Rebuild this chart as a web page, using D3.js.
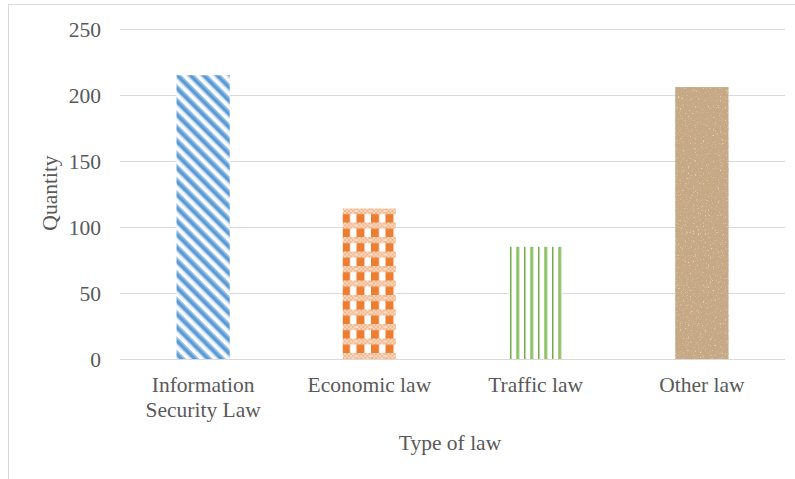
<!DOCTYPE html>
<html>
<head>
<meta charset="utf-8">
<script src="https://cdn.jsdelivr.net/npm/d3@7"></script>
<style>
  html, body { margin: 0; padding: 0; background: #fff; }
  svg { display: block; }
  text { font-family: "Liberation Serif", "Times New Roman", serif; fill: #595959; }
</style>
</head>
<body>
<script>
// Number of laws by type
const categories = ["Information\nSecurity Law", "Economic law", "Traffic law", "Other law"];
const quantities = [215, 114, 85, 206];
const yTicks = [0, 50, 100, 150, 200, 250];
const fills = ["url(#diag)", "url(#plaid)", "url(#vstripe)", "#c9a981"];

const W = 795, H = 479;
const margin = { left: 120, right: 10, top: 29, bottom: 120 };
const FS = 21.5;

const svg = d3.select("body").append("svg").attr("width", W).attr("height", H);

// chart frame
svg.append("rect").attr("x", 8.5).attr("y", 4.5).attr("width", 800).attr("height", 500)
  .attr("fill", "#fff").attr("stroke", "#d9d9d9");

const defs = svg.append("defs");

// blue wide downward diagonal stripes
const P = 9.4;
const diag = defs.append("pattern").attr("id", "diag").attr("patternUnits", "userSpaceOnUse")
  .attr("width", P).attr("height", P).attr("patternTransform", "rotate(45)");
diag.append("rect").attr("width", P).attr("height", P).attr("fill", "#fff");
diag.append("rect").attr("x", 0).attr("y", 1.2).attr("width", P).attr("height", 3.6).attr("fill", "#5b9bd5");
diag.append("rect").attr("x", 0).attr("y", 0).attr("width", P).attr("height", 1.2).attr("fill", "#9dc3e6");
diag.append("rect").attr("x", 0).attr("y", 4.8).attr("width", P).attr("height", 1.2).attr("fill", "#9dc3e6");
diag.append("rect").attr("x", 0).attr("y", 6).attr("width", P).attr("height", 0.8).attr("fill", "#deebf7");

// orange plaid
const plaid = defs.append("pattern").attr("id", "plaid").attr("patternUnits", "userSpaceOnUse")
  .attr("x", 342).attr("y", 208).attr("width", 14.5).attr("height", 14.5);
plaid.append("rect").attr("width", 14.5).attr("height", 14.5).attr("fill", "#fff");
plaid.append("rect").attr("x", 0).attr("y", 0).attr("width", 8).attr("height", 14.5).attr("fill", "#ed7d31");
plaid.append("rect").attr("x", 0).attr("y", 0).attr("width", 14.5).attr("height", 6).attr("fill", "#fbe0cc");
for (let i = 0; i < 7; i++) {
  for (let j = 0; j < 3; j++) {
    if ((i + j) % 2 === 0) {
      plaid.append("rect").attr("x", i * 2).attr("y", j * 2).attr("width", 2).attr("height", 2).attr("fill", "#f4b183");
    }
  }
}

// green vertical stripes
const vs = defs.append("pattern").attr("id", "vstripe").attr("patternUnits", "userSpaceOnUse")
  .attr("x", 509).attr("width", 14).attr("height", 10);
vs.append("rect").attr("width", 14).attr("height", 10).attr("fill", "#fff");
vs.append("rect").attr("x", 1).attr("width", 1.5).attr("height", 10).attr("fill", "#70ad47");
vs.append("rect").attr("x", 7).attr("width", 3.5).attr("height", 10).attr("fill", "#a9d18e");
vs.append("rect").attr("x", 8).attr("width", 1.5).attr("height", 10).attr("fill", "#8cc063");

// brown sand texture, applied directly on the bar
const sandFilter = defs.append("filter").attr("id", "sandNoise")
  .attr("x", 0).attr("y", 0).attr("width", 1).attr("height", 1);
sandFilter.append("feTurbulence").attr("type", "fractalNoise").attr("baseFrequency", 0.6)
  .attr("numOctaves", 3).attr("seed", 7).attr("result", "noise");
sandFilter.append("feColorMatrix").attr("in", "noise").attr("type", "matrix")
  .attr("values", "0 0 0 0 0.52  0 0 0 0 0.40  0 0 0 0 0.28  3.2 0 0 0 -1.45").attr("result", "speck");
sandFilter.append("feColorMatrix").attr("in", "noise").attr("type", "matrix")
  .attr("values", "0 0 0 0 0.88  0 0 0 0 0.77  0 0 0 0 0.64  0 -3 0 0 1.2").attr("result", "light");
sandFilter.append("feComposite").attr("in", "speck").attr("in2", "SourceGraphic").attr("operator", "in").attr("result", "sp");
sandFilter.append("feComposite").attr("in", "light").attr("in2", "SourceGraphic").attr("operator", "in").attr("result", "lt");
const merge = sandFilter.append("feMerge");
merge.append("feMergeNode").attr("in", "SourceGraphic");
merge.append("feMergeNode").attr("in", "lt");
merge.append("feMergeNode").attr("in", "sp");

const x = d3.scaleBand().domain(categories).range([margin.left, W - margin.right]).paddingInner(0.68).paddingOuter(0.34);
const y = d3.scaleLinear().domain([0, 250]).range([H - margin.bottom, margin.top]);

// gridlines
svg.append("g").selectAll("line").data(yTicks).join("line")
  .attr("x1", margin.left).attr("x2", W - margin.right)
  .attr("y1", d => Math.round(y(d)) + 0.5).attr("y2", d => Math.round(y(d)) + 0.5)
  .attr("stroke", "#d9d9d9").attr("stroke-width", 1);

// y tick labels
svg.append("g").selectAll("text").data(yTicks).join("text")
  .attr("x", 101).attr("y", d => y(d)).attr("dy", "0.35em")
  .attr("text-anchor", "end").attr("font-size", FS).text(d => d);

// bars
svg.append("g").selectAll("rect").data(quantities).join("rect")
  .attr("x", (d, i) => x(categories[i])).attr("width", x.bandwidth())
  .attr("y", d => y(d)).attr("height", d => y(0) - y(d))
  .attr("fill", (d, i) => fills[i])
  .attr("filter", (d, i) => i === 3 ? "url(#sandNoise)" : null);

// x axis line
svg.append("line").attr("x1", margin.left).attr("x2", W - margin.right)
  .attr("y1", Math.round(y(0)) + 0.5).attr("y2", Math.round(y(0)) + 0.5)
  .attr("stroke", "#d9d9d9");

// category labels
const xl = svg.append("g").selectAll("text").data(categories).join("text")
  .attr("x", d => x(d) + x.bandwidth() / 2).attr("y", 392)
  .attr("text-anchor", "middle").attr("font-size", FS);
xl.selectAll("tspan").data(d => d.split("\n")).join("tspan")
  .attr("x", function() { return d3.select(this.parentNode).attr("x"); })
  .attr("dy", (d, i) => i === 0 ? 0 : 25).text(d => d);

// axis titles
svg.append("text").attr("x", 450).attr("y", 450).attr("text-anchor", "middle")
  .attr("font-size", FS).text("Type of law");
svg.append("text").attr("transform", "translate(57,193) rotate(-90)").attr("text-anchor", "middle")
  .attr("font-size", FS).text("Quantity");
</script>
</body>
</html>
